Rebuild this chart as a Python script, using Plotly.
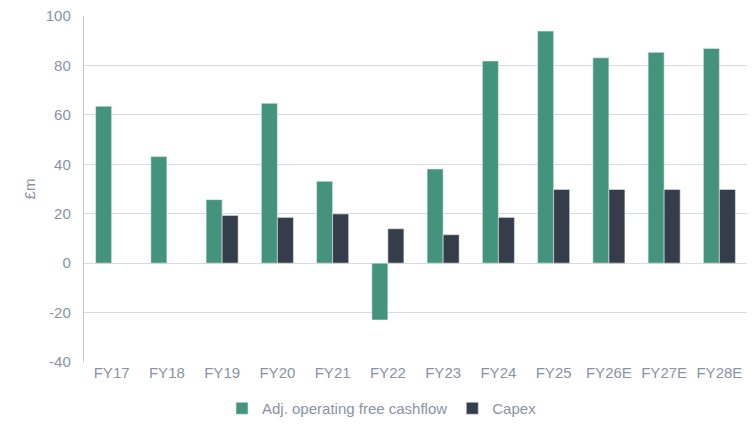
import plotly.graph_objects as go

categories = ["FY17", "FY18", "FY19", "FY20", "FY21", "FY22", "FY23", "FY24", "FY25", "FY26E", "FY27E", "FY28E"]
adj_fcf = [63.5, 43.1, 25.7, 64.7, 33.1, -23.0, 38.1, 81.8, 93.9, 83.1, 85.3, 86.9]
capex = [None, None, 19.3, 18.5, 19.9, 13.9, 11.5, 18.5, 29.8, 29.8, 29.8, 29.8]
y_ticks = [-40, -20, 0, 20, 40, 60, 80, 100]
y_tick_labels = ["-40", "-20", "0", "20", "40", "60", "80", "100"]

green = "#44937C"
dark = "#363D4A"
text_col = "#8A93A6"
font_fam = "Liberation Sans, Arial, sans-serif"

fig = go.Figure()
fig.add_trace(go.Bar(x=categories, y=adj_fcf, name="Adj. operating free cashflow",
                     marker=dict(color=green, line=dict(color="#E8F0EC", width=0.6))))
fig.add_trace(go.Bar(x=categories, y=capex, name="Capex",
                     marker=dict(color=dark, line=dict(color="#E3E5E8", width=0.6))))

# the page body has an 8px margin, so the figure is sized to fit the 756x425 window
fig.update_layout(
    width=748, height=417,
    margin=dict(l=76, r=9, t=8, b=63),
    paper_bgcolor="white", plot_bgcolor="white",
    barmode="group", bargap=0.42, bargroupgap=0,
    font=dict(family=font_fam, size=15, color=text_col),
    showlegend=True,
    legend=dict(orientation="h", x=0.5, xanchor="center", xref="container",
                y=0.0, yanchor="bottom", yref="container",
                font=dict(size=15, color=text_col), itemwidth=30, traceorder="normal"),
)
fig.update_xaxes(showgrid=False, showline=False, ticks="", automargin=False,
                 tickfont=dict(size=15, color=text_col))
fig.update_yaxes(range=[-40, 100], tickvals=y_ticks, ticktext=y_tick_labels,
                 showgrid=True, gridcolor="#D8DBE1", gridwidth=1.4,
                 zeroline=True, zerolinecolor="#D8DBE1", zerolinewidth=1.4,
                 showline=True, linecolor="#C4C6CA", linewidth=1.4,
                 ticks="", ticklabelstandoff=9, automargin=False, ticklabeloverflow="allow",
                 title=dict(text="£m", font=dict(size=15, color=text_col), standoff=6),
                 tickfont=dict(size=15, color=text_col))

fig.write_html("out.html")
